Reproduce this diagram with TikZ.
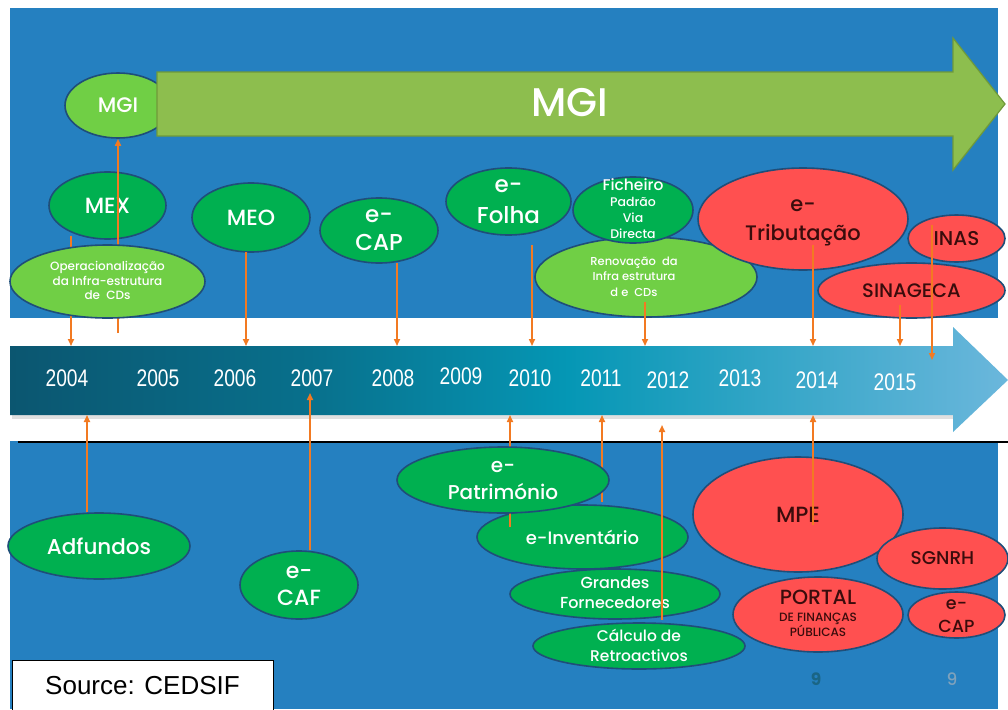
\documentclass[tikz,border=0pt]{standalone}
\usepackage{fontspec}
\setmainfont{Poppins}[UprightFont=* Medium, BoldFont=* Bold]
\newfontfamily\srcfont{Liberation Sans}
\newfontfamily\yearfont[FakeStretch=0.8]{Liberation Sans}
\usetikzlibrary{shapes.geometric,arrows.meta}

\definecolor{bgblue}{HTML}{2580C0}
\definecolor{dkgreen}{HTML}{00B050}
\definecolor{ltgreen}{HTML}{70CF45}
\definecolor{redfill}{HTML}{FF5050}
\definecolor{redtext}{HTML}{3A0C0C}
\definecolor{rim}{HTML}{1F4E79}
\definecolor{tlorange}{HTML}{F27A22}
\definecolor{mgigreen}{HTML}{8DBE4E}
\definecolor{mgiedge}{HTML}{6F9A3A}
\definecolor{tlA}{HTML}{0B5670}
\definecolor{tlB}{HTML}{08708C}
\definecolor{tlC}{HTML}{0597B5}
\definecolor{tlD}{HTML}{6BB7DC}
\definecolor{pagedark}{HTML}{1A6585}
\definecolor{pagelight}{HTML}{7FA2BC}

\pgfdeclarehorizontalshading{tlshade}{100bp}{color(0bp)=(tlA); color(25bp)=(tlA); color(40bp)=(tlB); color(53bp)=(tlC); color(75bp)=(tlD); color(100bp)=(tlD)}

\newcommand{\stk}[1]{\smash{\raisebox{-.3em}{\begin{tabular}[c]{@{}c@{}}#1\end{tabular}}}}
\newcommand{\fs}[2]{\fontsize{#1}{#2}\selectfont}

\tikzset{
	stage/.style={ellipse, draw=rim, line width=1.6pt, inner sep=0pt, align=center, text=white},
	done/.style={stage, fill=dkgreen},
	early/.style={stage, fill=ltgreen},
	plan/.style={stage, fill=redfill, text=redtext},
	size/.style 2 args={minimum width=#1pt, minimum height=#2pt},
	tl/.style={draw=tlorange, line width=1.6pt, -{Triangle[length=7pt,width=6pt]}},
	yr/.style={text=white, font=\yearfont\fs{24}{24}},
}

\begin{document}
\begin{tikzpicture}[x=1pt,y=-1pt]
	\useasboundingbox (0,0) rectangle (1008,709);
	\fill[bgblue] (10,8) rectangle (998,709);
	\fill[white] (10,318) rectangle (1008,441);
	\draw[black, line width=2pt] (18,442) -- (1008,442);

	\node[early, size={106}{65}, font=\fs{21}{21}] (mgi) at (118,105.5) {MGI};
	\filldraw[fill=mgigreen, draw=mgiedge, line width=1.2pt] (157,72) -- (953,72) -- (953,38) -- (1005,104) -- (953,170) -- (953,136) -- (157,136) -- cycle;
	\node[text=white, font=\fs{40}{40}] (mgibar) at (570,103) {MGI};

	\fill[black!12] (12,349) rectangle (955,419);
	\shade[shading=tlshade] (10,346) -- (953,346) -- (953,327) -- (1008,380) -- (953,432) -- (953,415) -- (10,415) -- cycle;
	\coordinate (tltop) at (0,346);
	\coordinate (tlbot) at (0,415);
	\foreach \yr/\px/\py in {2004/67/378, 2005/158/378, 2006/235/378, 2007/312/378, 2008/393/378, 2009/461/376, 2010/530/378, 2011/601/378, 2012/668/380, 2013/740/378, 2014/817/380, 2015/895/382}
		\node[yr] (y\yr) at (\px,\py) {\yr};

	\node[done, size={117}{67}, font=\fs{22}{22}] (mex) at (107.5,205.5) {MEX};
	\coordinate (s04) at (71,236);
	\coordinate (s05) at (118,333);
	\draw[tl] (s04) -- (s04 |- tltop);
	\draw[tl] (s05) -- (s05 |- mgi.south);
	\node[early, size={195}{73}, font=\fs{12}{14.5}] (oper) at (107.5,281.5) {\stk{Operacionalização\\da Infra-estrutura\\de\ \ CDs}};
	\node[done, size={118}{69}, font=\fs{22}{22}] (meo) at (251,217.5) {MEO};
	\node[done, size={118}{65}, font=\fs{23}{28}] (ecap) at (379,230.5) {\stk{e-\\CAP}};
	\node[done, size={125}{67}, font=\fs{23}{31}] (efolha) at (508.5,201.5) {\stk{e-\\Folha}};
	\node[early, size={222}{80}, font=\fs{11.5}{15.5}] (renov) at (646,277) {\stk{Renovação\ \ da\\Infra estrutura\\d e\ \ CDs}\hspace*{24pt}};
	\node[done, size={120}{66}, font=\fs{12.5}{16}] (fich) at (633,210) {\stk{\fs{15.5}{16}Ficheiro\\Padrão\\Via\\Directa}};
	\node[plan, size={210}{102}, font=\fs{21}{29}] (etrib) at (803,219) {\stk{e-\\Tributação}};
	\node[plan, size={97}{47}, font=\fs{20}{20}] (inas) at (956.5,238.5) {INAS};
	\node[plan, size={187}{55}, font=\fs{19.5}{19.5}] (sinag) at (911.5,290.5) {SINAGECA};

	\coordinate (s06) at (246,252);
	\coordinate (s08) at (397,263);
	\coordinate (s10) at (532,245);
	\coordinate (s12) at (645,302);
	\coordinate (s14) at (813,245);
	\coordinate (s15) at (900,305);
	\coordinate (s16) at (932,225);
	\coordinate (e16) at (932,360);
	\draw[tl] (s06) -- (s06 |- tltop);
	\draw[tl] (s08) -- (s08 |- tltop);
	\draw[tl] (s10) -- (s10 |- tltop);
	\draw[tl] (s12) -- (s12 |- tltop);
	\draw[tl] (s14) -- (s14 |- tltop);
	\draw[tl] (s15) -- (s15 |- tltop);
	\draw[tl] (s16) -- (e16);

	\node[done, size={182}{66}, font=\fs{21.5}{21.5}] (adf) at (99,546) {Adfundos};
	\node[done, size={118}{68}, font=\fs{22}{27}] (ecaf) at (299,585) {\stk{e-\\CAF}};
	\node[done, size={211}{64}, font=\fs{18}{18}] (einv) at (582.5,537) {e-Inventário};
	\coordinate (b10) at (510,527);
	\coordinate (b11) at (602,502);
	\draw[tl] (b10) -- (b10 |- tlbot);
	\draw[tl] (b11) -- (b11 |- tlbot);
	\node[done, size={212}{66}, font=\fs{20}{27}] (epatr) at (503,480) {\stk{e-\\Património}};
	\node[done, size={210}{50}, font=\fs{16}{20}] (grandes) at (615,594) {\stk{Grandes\\Fornecedores}};
	\node[done, size={212}{46}, font=\fs{15.5}{20}] (calc) at (639,646) {\stk{Cálculo de\\Retroactivos}};
	\node[plan, size={210}{115}, font=\fs{22}{22}] (mpe) at (798,514.5) {MPE};
	\node[plan, size={170}{75}, font=\fs{20.5}{15}] (portal) at (818,614.5) {\stk{PORTAL\\[2pt]\fs{12}{14}DE FINANÇAS\\\fs{12}{14}PÚBLICAS}};
	\node[plan, size={131}{61}, font=\fs{18.5}{18.5}] (sgnrh) at (942.5,558.5) {SGNRH};
	\node[plan, size={97}{46}, font=\fs{17.5}{23}] (ecapr) at (956.5,615) {\stk{e-\\CAP}};

	\coordinate (b04) at (87,512);
	\coordinate (b07) at (310,550);
	\coordinate (e07) at (310,393);
	\coordinate (b12) at (662,620);
	\coordinate (e12) at (662,425);
	\coordinate (b14) at (813,525);
	\draw[tl] (b04) -- (b04 |- tlbot);
	\draw[tl] (b07) -- (e07);
	\draw[tl] (b12) -- (e12);
	\draw[tl] (b14) -- (b14 |- tlbot);

	\node[text=pagedark, font=\bfseries\fs{17}{17}] (pg1) at (816,679) {9};
	\node[text=pagelight, font=\fs{17}{17}] (pg2) at (952,679) {9};
	\node[draw=black, line width=1pt, fill=white, size={261}{52}, font=\srcfont\fs{26}{26}] (source) at (142.5,686) {Source: CEDSIF};
\end{tikzpicture}
\end{document}
